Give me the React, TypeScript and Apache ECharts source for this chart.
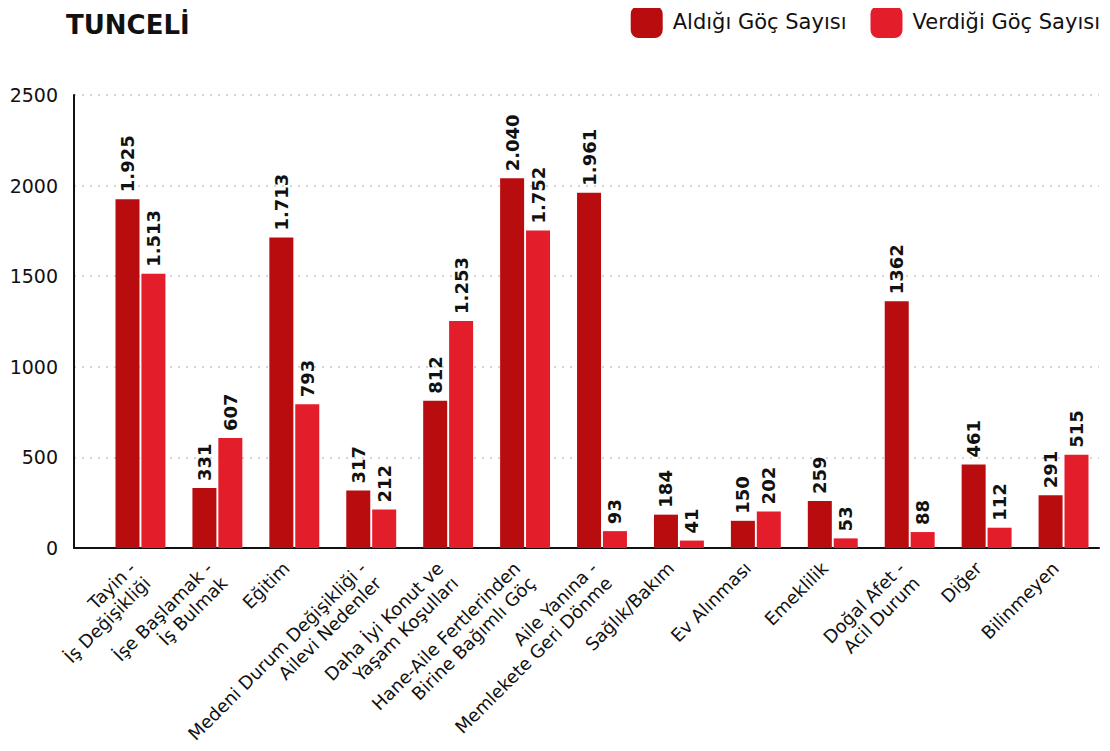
import React, { useEffect, useRef } from "react";
import * as echarts from "echarts";

const categories = [
  "Tayin -\nİş Değişikliği",
  "İşe Başlamak -\nİş Bulmak",
  "Eğitim",
  "Medeni Durum Değişikliği -\nAilevi Nedenler",
  "Daha İyi Konut ve\nYaşam Koşulları",
  "Hane-Aile Fertlerinden\nBirine Bağımlı Göç",
  "Aile Yanına -\nMemlekete Geri Dönme",
  "Sağlık/Bakım",
  "Ev Alınması",
  "Emeklilik",
  "Doğal Afet -\nAcil Durum",
  "Diğer",
  "Bilinmeyen",
];

const aldigiValues = [1925, 331, 1713, 317, 812, 2040, 1961, 184, 150, 259, 1362, 461, 291];
const aldigiLabels = ["1.925", "331", "1.713", "317", "812", "2.040", "1.961", "184", "150", "259", "1362", "461", "291"];
const verdigiValues = [1513, 607, 793, 212, 1253, 1752, 93, 41, 202, 53, 88, 112, 515];
const verdigiLabels = ["1.513", "607", "793", "212", "1.253", "1.752", "93", "41", "202", "53", "88", "112", "515"];

const yTicks = { min: 0, max: 2500, interval: 500 };

const FONT = "'DejaVu Sans', sans-serif";

export default function App() {
  const ref = useRef<HTMLDivElement>(null);
  useEffect(() => {
    if (!ref.current) return;
    const chart = echarts.init(ref.current, undefined, { renderer: "svg" });
    const labelStyle = {
      show: true,
      position: "top",
      rotate: 90,
      align: "left",
      verticalAlign: "middle",
      distance: 7,
      fontSize: 18,
      fontWeight: 600,
      color: "#111",
      fontFamily: FONT,
    };
    chart.setOption({
      animation: false,
      textStyle: { fontFamily: FONT },
      title: {
        text: "TUNCELİ",
        left: 61,
        top: 7,
        textStyle: { fontSize: 26, fontWeight: "bold", color: "#111", fontFamily: FONT },
      },
      legend: {
        right: 5,
        top: 1,
        itemWidth: 32,
        itemHeight: 32,
        itemGap: 24,
        icon: "roundRect",
        textStyle: { fontSize: 21, color: "#111", fontFamily: FONT, padding: [0, 0, 0, 5] },
        data: ["Aldığı Göç Sayısı", "Verdiği Göç Sayısı"],
      },
      grid: [
        { left: 102, right: 8, top: 95, bottom: 203, outerBoundsMode: "none", containLabel: false },
        { left: 74, right: 11, top: 95, bottom: 203, outerBoundsMode: "none", containLabel: false },
      ],
      xAxis: [
        {
          type: "category",
          gridIndex: 0,
          data: categories,
          axisLine: { show: false },
          axisTick: { show: false },
          axisLabel: {
            rotate: 45,
            interval: 0,
            margin: -6,
            fontSize: 18,
            lineHeight: 21,
            verticalAlign: "top",
            align: "right",
            padding: [0, 22, 0, 0],
            color: "#111",
            fontFamily: FONT,
          },
        },
        {
          type: "value",
          gridIndex: 1,
          min: 0,
          max: 1,
          axisLine: { show: true, onZero: false, lineStyle: { color: "#111", width: 2 } },
          axisTick: { show: false },
          axisLabel: { show: false },
          splitLine: { show: false },
        },
      ],
      yAxis: [
        {
          type: "value",
          gridIndex: 0,
          ...yTicks,
          show: false,
          splitLine: { show: false },
        },
        {
          type: "value",
          gridIndex: 1,
          ...yTicks,
          axisLine: { show: true, lineStyle: { color: "#111", width: 2 } },
          axisTick: { show: false },
          axisLabel: {
            fontSize: 19,
            color: "#111",
            margin: 16,
            fontFamily: FONT,
            formatter: (v: number) => String(v),
          },
          splitLine: { show: true, lineStyle: { type: [2, 6], color: "#c8c8c8", width: 1.5 } },
        },
      ],
      series: [
        {
          name: "Aldığı Göç Sayısı",
          type: "bar",
          xAxisIndex: 0,
          yAxisIndex: 0,
          barWidth: 24,
          barGap: "8%",
          itemStyle: { color: "#b80c0e" },
          data: aldigiValues,
          label: { ...labelStyle, formatter: (p: any) => aldigiLabels[p.dataIndex] },
        },
        {
          name: "Verdiği Göç Sayısı",
          type: "bar",
          xAxisIndex: 0,
          yAxisIndex: 0,
          barWidth: 24,
          barGap: "8%",
          itemStyle: { color: "#e31d2a" },
          data: verdigiValues,
          label: { ...labelStyle, formatter: (p: any) => verdigiLabels[p.dataIndex] },
        },
      ],
    });
    return () => chart.dispose();
  }, []);
  return <div ref={ref} style={{ width: 1110, height: 751, margin: -8 }} />;
}
